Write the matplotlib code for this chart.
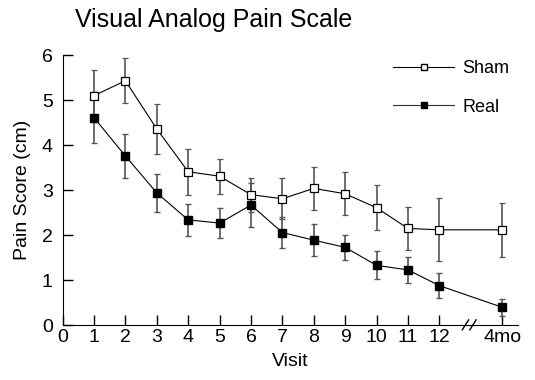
import numpy as np
import matplotlib.pyplot as plt
from matplotlib.lines import Line2D

plt.rcParams["font.family"] = ["Liberation Sans", "DejaVu Sans"]

visit_pos = [1, 2, 3, 4, 5, 6, 7, 8, 9, 10, 11, 12, 14]
tick_pos = [0, 1, 2, 3, 4, 5, 6, 7, 8, 9, 10, 11, 12, 14]
tick_labels = ["0", "1", "2", "3", "4", "5", "6", "7", "8", "9", "10", "11", "12", "4mo"]

sham = [5.10, 5.43, 4.36, 3.41, 3.31, 2.90, 2.81, 3.04, 2.92, 2.61, 2.15, 2.12, 2.12]
sham_err = [0.58, 0.50, 0.56, 0.51, 0.39, 0.38, 0.46, 0.48, 0.48, 0.50, 0.48, 0.70, 0.60]
real = [4.61, 3.76, 2.94, 2.34, 2.27, 2.67, 2.06, 1.89, 1.73, 1.33, 1.23, 0.88, 0.40]
real_err = [0.57, 0.48, 0.43, 0.35, 0.33, 0.48, 0.34, 0.35, 0.28, 0.31, 0.28, 0.28, 0.19]

fig = plt.figure(figsize=(5.35, 3.8), dpi=100)
ax = fig.add_axes([0.117, 0.144, 0.851, 0.711])

ax.errorbar(visit_pos, sham, yerr=sham_err, color="black", ecolor="#555555",
            elinewidth=1.2, capsize=2.5, capthick=1, lw=0.8, marker="s", ms=5.5,
            mfc="white", mec="black", mew=0.9)
ax.errorbar(visit_pos, real, yerr=real_err, color="black", ecolor="#555555",
            elinewidth=1.2, capsize=2.5, capthick=1, lw=0.8, marker="s", ms=5.5,
            mfc="black", mec="black")

ax.set_xlim(0, 14.5)
ax.set_ylim(0, 6)
ax.set_xticks(tick_pos)
ax.set_xticklabels(tick_labels, fontsize=14)
ax.set_yticks(range(0, 7))
ax.tick_params(direction="in", length=7, width=1)
ax.tick_params(axis="x", pad=3)
ax.tick_params(axis="y", labelsize=14, pad=7)
ax.spines["top"].set_visible(False)
ax.spines["right"].set_visible(False)

# axis break marks between 12 and 4mo
for dx in (-0.12, 0.12):
    ax.plot([12.85 + dx, 13.05 + dx], [-0.1, 0.12], color="black", lw=1, clip_on=False)

ax.set_xlabel("Visit", fontsize=14, labelpad=5)
ax.set_ylabel("Pain Score (cm)", fontsize=14, labelpad=8)
fig.text(0.14, 0.947, "Visual Analog Pain Scale", fontsize=18, va="center")

handles = [
    Line2D([], [], color="black", lw=0.8, marker="s", ms=4, mfc="white", mec="black"),
    Line2D([], [], color="#333333", lw=0.8, marker="s", ms=4, mfc="black", mec="black"),
]
ax.legend(handles, ["Sham", "Real"], loc="upper left",
          bbox_to_anchor=(393 / 535, 0.842), bbox_transform=fig.transFigure,
          frameon=False, borderpad=0, borderaxespad=0, fontsize=13,
          handlelength=3.4, handletextpad=0.45, labelspacing=1.2)

plt.savefig("out.png", dpi=100)
